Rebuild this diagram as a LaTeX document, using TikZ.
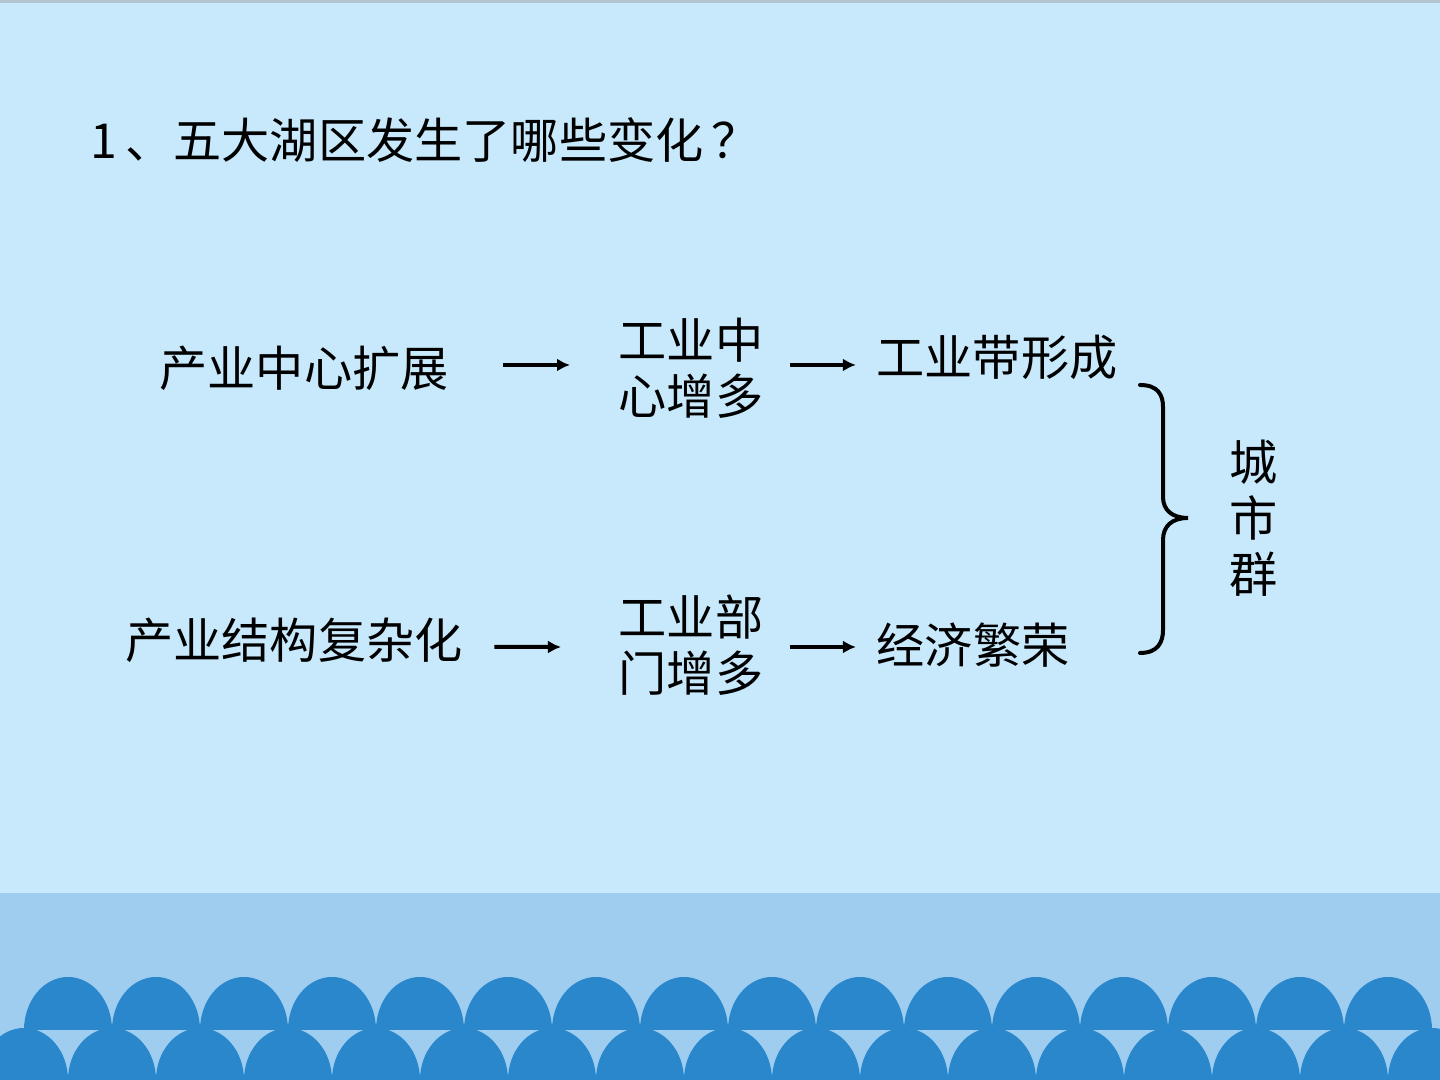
\documentclass[tikz,border=0pt]{standalone}
\usepackage{fontspec}
\setmainfont{Noto Sans CJK SC}
\usetikzlibrary{positioning, arrows.meta}

\definecolor{skybg}{HTML}{C7E9FB}
\definecolor{bandbg}{HTML}{9FCDF0}
\definecolor{wavebl}{HTML}{2A87CB}
\definecolor{rimgray}{HTML}{B4C4D0}

\begin{document}
\begin{tikzpicture}[x = 0.01cm, y = 0.01cm,
    every node/.style = {inner sep = 0pt, font = \fontsize{13.7pt}{16pt}\selectfont, align = center},
    flow/.style = {draw, line width = 0.04cm, -{Latex[length = 0.13cm, width = 0.13cm]}},
    brace/.style = {draw, line width = 0.04cm, line cap = round}]
    % slide background
    \useasboundingbox (0,0) rectangle (1440,1080);
    \fill[skybg] (0,0) rectangle (1440,1080);
    \fill[rimgray] (0,1077) rectangle (1440,1080);
    \fill[bandbg] (0,0) rectangle (1440,187);
    % scallops
    \foreach \i in {0,...,16}
        \fill[wavebl] (24+88*\i-44,0) arc (180:0:44 and 52) -- cycle;
    \foreach \i in {0,...,15}
        \fill[wavebl] (68+88*\i-44,50) arc (180:0:44 and 53) -- cycle;

    \node[anchor = west] (title) at (90,940) {1\,、五大湖区发生了哪些变化\,？};

    % upper row
    \node (cy) at (304,712) {产业中心扩展};
    \node (zx) at (691,712) {工业中\\心增多};
    \node (gyd) at (997,723) {工业带形成};
    % lower row
    \node (jg) at (294,440) {产业结构复杂化};
    \node (bm) at (691,435) {工业部\\门增多};
    \node (jj) at (973,435) {经济繁荣};
    \node (csq) at (1254,562) {城\\市\\群};

    \draw[flow, shorten <= 0.54cm, shorten >= 0.48cm] ([yshift = 0.03cm]cy.east) -- ([yshift = 0.03cm]zx.west);
    \draw[flow, shorten <= 0.26cm, shorten >= 0.20cm] ([yshift = 0.03cm]zx.east) -- ([yshift = 0.03cm]zx.east -| gyd.west);
    \draw[flow, shorten <= 0.31cm, shorten >= 0.57cm] ([yshift = -0.07cm]jg.east) -- ([yshift = -0.02cm]bm.west);
    \draw[flow, shorten <= 0.26cm, shorten >= 0.20cm] ([yshift = -0.02cm]bm.east) -- ([yshift = -0.02cm]jj.west);

    % brace
    \draw[brace] (1140,695) .. controls (1158,695) and (1163,685) .. (1163,673)
        -- (1163,583) .. controls (1163,570) and (1172,562) .. (1188,562)
        .. controls (1172,562) and (1163,554) .. (1163,540)
        -- (1163,450) .. controls (1163,438) and (1158,427) .. (1140,427);
\end{tikzpicture}
\end{document}
